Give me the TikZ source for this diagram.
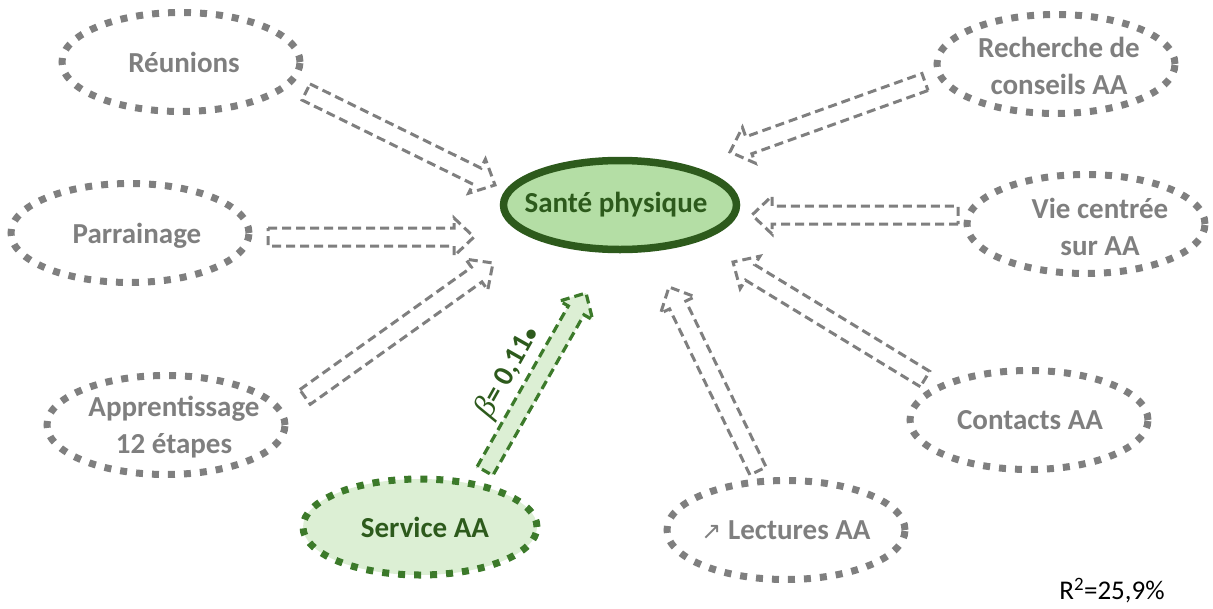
\documentclass[tikz,border=0pt]{standalone}
\usepackage{fontspec}
\setmainfont{Carlito}
\newfontfamily\dejavu{DejaVu Sans}
\newfontfamily\serifgreek{Liberation Serif}
\usetikzlibrary{shapes.geometric,calc}
\definecolor{grayc}{HTML}{7F7F7F}
\definecolor{dkgreen}{HTML}{2D5A1C}
\definecolor{midgreen}{HTML}{3C7A2A}
\definecolor{lightgreen}{HTML}{B4DEA5}
\definecolor{palegreen}{HTML}{DCEFD4}
\newcommand\blockarrow[4][]{%
  \coordinate (#2-h) at ($(#4)!20pt!(#3)$);
  \draw[#1] ($(#3)!9pt!90:(#4)$) -- ($(#2-h)!9pt!90:(#4)$) -- ($(#2-h)!19pt!90:(#4)$) -- (#4)
    -- ($(#2-h)!19pt!-90:(#4)$) -- ($(#2-h)!9pt!-90:(#4)$) -- ($(#3)!9pt!-90:(#4)$) -- cycle;
}
\begin{document}
\begin{tikzpicture}[x=1pt,y=-1pt,
  factor/.style={ellipse, draw=grayc, line width=7pt, dash pattern=on 7pt off 9pt,
    inner sep=0pt, minimum width=238pt, minimum height=99pt},
  ftxt/.style={text=grayc, font=\fontsize{29}{36.5}\selectfont\bfseries, align=center, inner sep=0pt},
  grayarrow/.style={draw=grayc, line width=3pt, dash pattern=on 9pt off 5pt},
  greenarrow/.style={draw=midgreen, fill=palegreen, line width=3.2pt, dash pattern=on 9pt off 5pt}]
\useasboundingbox (0,0) rectangle (1213,608);

% coordinates of arrow ends
\coordinate (reu-t) at (306,92);   \coordinate (reu-e) at (495,185);
\coordinate (par-t) at (268,237);  \coordinate (par-e) at (474,237);
\coordinate (app-t) at (305,397);  \coordinate (app-e) at (493,263);
\coordinate (ser-t) at (485,471);  \coordinate (ser-e) at (586,293);
\coordinate (rec-t) at (925,82);   \coordinate (rec-e) at (730,152);
\coordinate (vie-t) at (958,215);  \coordinate (vie-e) at (752,215);
\coordinate (con-t) at (925,379);  \coordinate (con-e) at (733,262);
\coordinate (lec-t) at (758,471);  \coordinate (lec-e) at (669,287);

% arrows
\blockarrow[grayarrow]{reu}{reu-t}{reu-e}
\blockarrow[grayarrow]{par}{par-t}{par-e}
\blockarrow[grayarrow]{app}{app-t}{app-e}
\blockarrow[grayarrow]{rec}{rec-t}{rec-e}
\blockarrow[grayarrow]{vie}{vie-t}{vie-e}
\blockarrow[grayarrow]{con}{con-t}{con-e}
\blockarrow[grayarrow]{lec}{lec-t}{lec-e}
\blockarrow[greenarrow]{ser}{ser-t}{ser-e}

% ellipses
\node[factor] (reu) at (181,62) {};
\node[factor] (par) at (130,233) {};
\node[factor] (app) at (166,425) {};
\node[factor] (rec) at (1056,64) {};
\node[factor] (vie) at (1086,224) {};
\node[factor] (con) at (1029,420) {};
\node[factor] (lec) at (786,530) {};
\node[factor, draw=midgreen, fill=palegreen, minimum width=234pt, minimum height=96pt] (ser) at (420,527) {};
\node[ellipse, draw=dkgreen, fill=lightgreen, line width=7.5pt, inner sep=0pt,
      minimum width=233pt, minimum height=89pt] (sante) at (620,205) {};

% texts
\node[ftxt] (reu-l) at ([xshift=3pt]reu.center) {Réunions};
\node[ftxt] (par-l) at ([xshift=7pt,yshift=-3pt]par.center) {Parrainage};
\node[ftxt] (app-l) at ([xshift=8pt,yshift=-2pt]app.center) {Apprentissage\\12 étapes};
\node[ftxt] (rec-l) at ([xshift=3pt,yshift=-2pt]rec.center) {Recherche de\\conseils AA};
\node[ftxt] (vie-l) at ([xshift=14pt,yshift=-3pt]vie.center) {Vie centrée\\sur AA};
\node[ftxt] (con-l) at ([xshift=1pt]con.center) {Contacts AA};
\node[ftxt] (lec-l) at (lec.center) {{\dejavu\mdseries\fontsize{24}{24}\selectfont ↗} Lectures AA};
\node[ftxt, text=dkgreen] (ser-l) at ([xshift=5pt]ser.center) {Service AA};
\node[ftxt, text=dkgreen] (sante-l) at ([xshift=-4pt]sante.center) {Santé physique};

% coefficient label
\node[text=dkgreen, font=\fontsize{29}{29}\selectfont\bfseries, rotate=60.6, inner sep=0pt] (beta) at (508,372)
  {{\serifgreek\mdseries\itshape\fontsize{32}{32}\selectfont β}= 0,11{\fontsize{22}{22}\selectfont •}};

% R2
\node[font=\fontsize{27}{27}\selectfont, inner sep=0pt] (r2) at (1112,591) {R\textsuperscript{2}=25,9\%};
\end{tikzpicture}
\end{document}
